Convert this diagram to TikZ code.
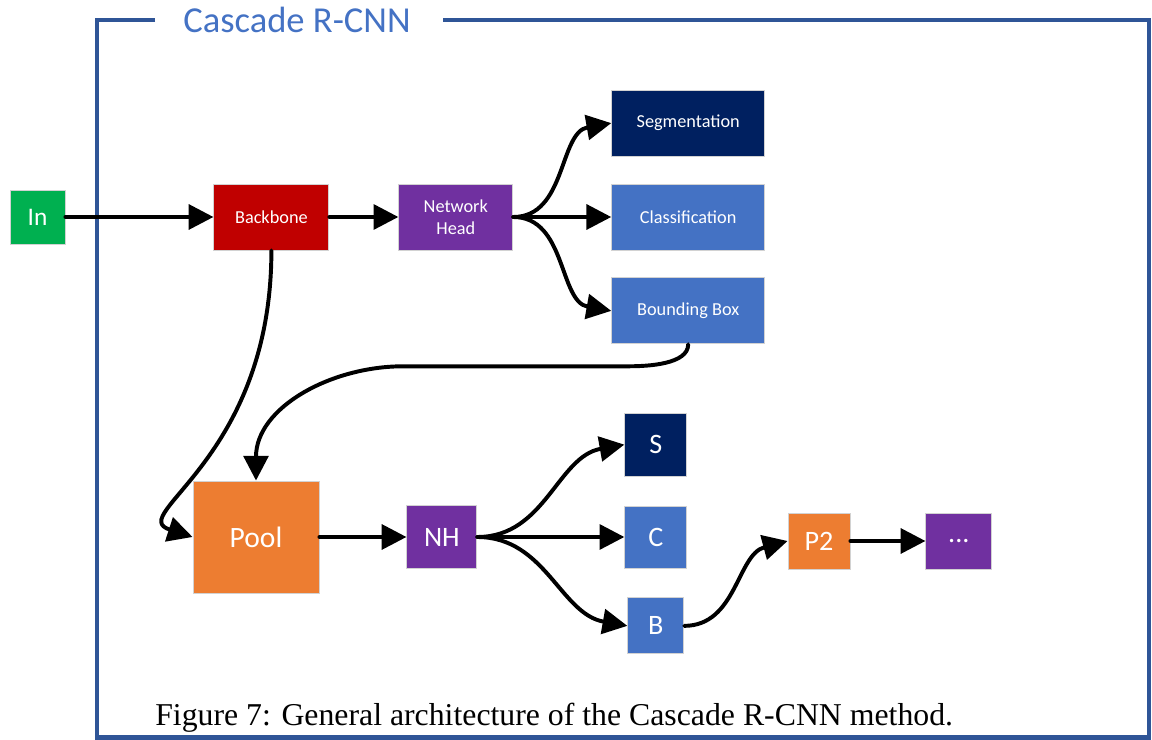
\documentclass[tikz,border=0pt]{standalone}
\usepackage{fontspec}
\setmainfont{Carlito}
\newfontfamily\capfont{Liberation Serif}
\usetikzlibrary{arrows.meta,positioning}

\definecolor{ingreen}{HTML}{00B050}
\definecolor{bbred}{HTML}{C00000}
\definecolor{headpurple}{HTML}{7030A0}
\definecolor{segnavy}{HTML}{002060}
\definecolor{clsblue}{HTML}{4472C4}
\definecolor{poolorange}{HTML}{ED7D31}
\definecolor{frameblue}{HTML}{2F5597}

\begin{document}
\begin{tikzpicture}[x=0.025cm,y=-0.025cm,
    box/.style={rectangle,draw=gray!35,line width=0.6pt,text=white,inner sep=0pt},
    small/.style={box,minimum width=3.825cm,minimum height=1.65cm,font=\fontsize{13}{15.6}\selectfont},
    big/.style={box,font=\fontsize{20}{24}\selectfont},
    flow/.style={-{Triangle[length=0.62cm,width=0.62cm]},line width=2.8pt,line cap=round},
    frame/.style={draw=frameblue,line width=2.9pt}]
  \useasboundingbox (0,0) rectangle (1152,740);

  % frame and title
  \draw[frame] (155,20) -- (97,20) -- (97,737.5) -- (1149,737.5) -- (1149,20) -- (443,20);
  \node[anchor=base,text=clsblue,font=\fontsize{26}{31}\selectfont] (title) at (297,33) {Cascade R-CNN};

  % first stage
  \node[box,fill=ingreen,minimum width=1.375cm,minimum height=1.35cm,font=\fontsize{18}{22}\selectfont] (in) at (37.5,217) {In};
  \node[small,fill=bbred,minimum width=2.875cm,right=3.7cm of in] (backbone) {Backbone};
  \node[small,fill=headpurple,minimum width=2.85cm,right=1.725cm of backbone,align=center] (nethead) {Network\\Head};
  \node[small,fill=clsblue,right=2.45cm of nethead] (cls) {Classification};
  \node[small,fill=segnavy,above=0.675cm of cls] (seg) {Segmentation};
  \node[small,fill=clsblue,below=0.675cm of cls] (bbox) {Bounding Box};

  % second stage
  \node[box,fill=poolorange,minimum width=3.15cm,minimum height=2.8cm,font=\fontsize{21}{25}\selectfont] (pool) at (256,537) {Pool};
  \node[big,fill=headpurple,minimum width=1.75cm,minimum height=1.575cm,right=2.175cm of pool] (nh) {NH};
  \node[big,fill=clsblue,minimum width=1.55cm,minimum height=1.55cm,right=3.675cm of nh] (c) {C};
  \node[big,fill=segnavy,minimum width=1.55cm,minimum height=1.575cm,above=0.725cm of c] (s) {S};
  \node[big,fill=clsblue,minimum width=1.4cm,minimum height=1.4cm,below=0.725cm of c] (b) {B};
  \node[big,fill=poolorange,minimum width=1.55cm,minimum height=1.4cm] (ptwo) at (819,541) {P2};
  \node[big,fill=headpurple,minimum width=1.65cm,minimum height=1.4cm,right=1.875cm of ptwo] (more) {...};

  \draw[flow] (in) -- (backbone);
  \draw[flow] (backbone) -- (nethead);
  \draw[flow] (nethead.east) to[out=0,in=190] (seg.west);
  \draw[flow] (nethead.east) -- (cls.west);
  \draw[flow] (nethead.east) to[out=0,in=170] (bbox.west);
  \draw[flow] (backbone.south) .. controls +(0,210) and +(-68,-22) .. (pool.west);
  \draw[flow] (bbox.south) to[out=-90,in=0,looseness=0.8] ++(-60,22) -- ++(-225,0) to[out=180,in=90] (pool.north);
  \draw[flow] (pool) -- (nh);
  \draw[flow] (nh.east) to[out=0,in=190] (s.west);
  \draw[flow] (nh.east) -- (c.west);
  \draw[flow] (nh.east) to[out=0,in=170] (b.west);
  \draw[flow] (b.east) to[out=0,in=195] (ptwo.west);
  \draw[flow] (ptwo) -- (more);

  \node[anchor=base west,inner sep=0pt,font=\capfont\fontsize{22.6}{27}\selectfont] (caption) at (155,725) {Figure 7: General architecture of the Cascade R-CNN method.};
\end{tikzpicture}
\end{document}
